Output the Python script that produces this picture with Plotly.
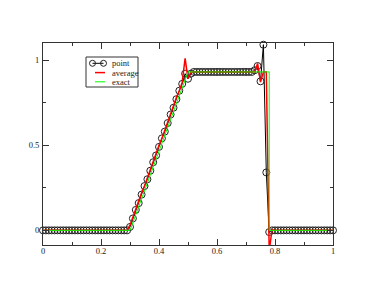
import plotly.graph_objects as go

# ---------------- data ----------------
x_grid = [round(i * 0.01, 2) for i in range(101)]

point_y = (
    [0.0] * 30
    + [0.02, 0.07, 0.12, 0.16, 0.21, 0.26, 0.30, 0.35, 0.40, 0.44,
       0.49, 0.54, 0.58, 0.63, 0.68, 0.72, 0.77, 0.82, 0.86, 0.92,
       0.89, 0.92, 0.93]
    + [0.93] * 20
    + [0.94, 0.965, 0.875, 1.09, 0.34]
    + [-0.01]
    + [0.0] * 22
)

average_y = (
    [0.0] * 30
    + [0.03, 0.08, 0.12, 0.17, 0.22, 0.26, 0.31, 0.36, 0.40, 0.45,
       0.50, 0.54, 0.59, 0.64, 0.68, 0.73, 0.78, 0.82, 0.87, 1.01,
       0.89, 0.93, 0.93]
    + [0.93] * 20
    + [0.93, 0.98, 0.87, 0.93, 0.93]
    + [-0.12]
    + [0.005]
    + [0.0] * 21
)

exact_x = [0.0, 0.3, 0.5, 0.78, 0.78, 1.0]
exact_y = [0.0, 0.0, 0.93, 0.93, 0.0, 0.0]

x_tick_vals = [0, 0.2, 0.4, 0.6, 0.8, 1]
x_tick_text = ["0", "0.2", "0.4", "0.6", "0.8", "1"]
y_tick_vals = [0, 0.5, 1]
y_tick_text = ["0", "0.5", "1"]

legend_names = ["point", "average", "exact"]

# ---------------- figure ----------------
W, H = 374, 289
ML, MR, MT, MB = 43, 41, 43, 44
FONT = "Liberation Serif"

fig = go.Figure()
fig.add_trace(go.Scatter(
    x=x_grid, y=point_y, mode="lines+markers", name=legend_names[0],
    line=dict(color="black", width=1),
    marker=dict(symbol="circle-open", size=7, color="#222", line=dict(width=1)),
    cliponaxis=False, showlegend=False,
))
fig.add_trace(go.Scatter(
    x=x_grid, y=average_y, mode="lines", name=legend_names[1],
    line=dict(color="#ff0000", width=1.5), showlegend=False,
))
fig.add_trace(go.Scatter(
    x=exact_x, y=exact_y, mode="lines", name=legend_names[2],
    line=dict(color="#00ff00", width=1), showlegend=False,
))

axis_common = dict(
    showgrid=False, zeroline=False, showline=True, linecolor="#333", linewidth=1,
    mirror="ticks", ticks="inside", ticklen=6, tickwidth=1, tickcolor="#333",
    tickfont=dict(family=FONT, size=8.5, color="#222"),
)
fig.update_xaxes(range=[0, 1], tickvals=x_tick_vals, ticktext=x_tick_text,
                 ticklabelstandoff=-2,
                 minor=dict(ticks="inside", ticklen=3, dtick=0.1, tick0=0, tickcolor="#333"),
                 **axis_common)
fig.update_yaxes(range=[-0.086, 1.1], tickvals=y_tick_vals, ticktext=y_tick_text,
                 ticklabelstandoff=1,
                 minor=dict(ticks="inside", ticklen=3, dtick=0.25, tick0=0, tickcolor="#333"),
                 **axis_common)

# ---- manual legend (xmgrace style) ----
PW, PH = W - ML - MR, H - MT - MB


def px(xp):
    return (xp - ML) / PW


def py(yp):
    return (H - MB - yp) / PH


shapes = [dict(type="rect", xref="paper", yref="paper",
               x0=px(86), x1=px(138), y0=py(57), y1=py(87),
               line=dict(color="#333", width=1), fillcolor="white", layer="above")]
rows_y = [63.3, 72.6, 81.8]
shapes.append(dict(type="line", xref="paper", yref="paper", x0=px(92.5), x1=px(103.5),
                   y0=py(rows_y[0]), y1=py(rows_y[0]), line=dict(color="black", width=1)))
for cx in (92.5, 103.5):
    shapes.append(dict(type="circle", xref="paper", yref="paper",
                       x0=px(cx - 3), x1=px(cx + 3), y0=py(rows_y[0] + 3), y1=py(rows_y[0] - 3),
                       line=dict(color="#222", width=1), fillcolor="rgba(0,0,0,0)"))
shapes.append(dict(type="line", xref="paper", yref="paper", x0=px(95), x1=px(105),
                   y0=py(rows_y[1]), y1=py(rows_y[1]), line=dict(color="#ff0000", width=1.5)))
shapes.append(dict(type="line", xref="paper", yref="paper", x0=px(95), x1=px(105),
                   y0=py(rows_y[2]), y1=py(rows_y[2]), line=dict(color="#00ff00", width=1)))

annotations = []
for name, ry in zip(legend_names, rows_y):
    annotations.append(dict(text=name, xref="paper", yref="paper", x=px(109.5), y=py(ry),
                            xanchor="left", yanchor="middle", showarrow=False,
                            font=dict(family=FONT, size=8.5, color="#222")))

fig.update_layout(
    width=W, height=H, margin=dict(l=ML, r=MR, t=MT, b=MB, pad=0),
    paper_bgcolor="white", plot_bgcolor="white",
    shapes=shapes, annotations=annotations, showlegend=False,
)

fig.write_html("out.html", config={"displayModeBar": False},
               post_script="document.body.style.margin='0';")
